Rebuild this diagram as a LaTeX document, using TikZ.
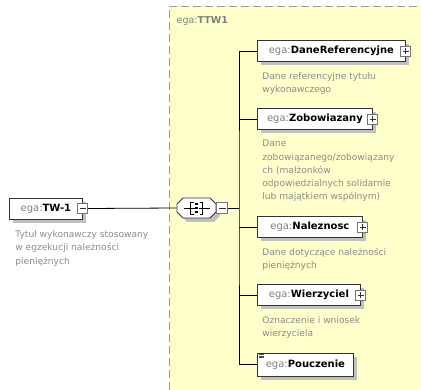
\documentclass[tikz,border=0pt]{standalone}
\usepackage{fontspec}
\setmainfont{DejaVu Sans}
\usetikzlibrary{shadows}
\usetikzlibrary{positioning}

\definecolor{typefill}{RGB}{255,255,204}
\definecolor{nsgrey}{RGB}{128,128,128}
\definecolor{docgrey}{RGB}{140,140,140}
\definecolor{shadegrey}{RGB}{192,192,192}

\newcommand{\ega}[1]{{\color{nsgrey}ega:}\textbf{#1}}

\tikzset{
	elem/.style={draw=black!80, fill=white, anchor=west, minimum height=21pt, inner xsep=8pt,
		font=\fontsize{10}{12}\selectfont,
		drop shadow={shadow xshift=4pt, shadow yshift=-4pt, fill=shadegrey, opacity=1}},
	doc/.style={anchor=north west, align=left, inner sep=0pt, text=docgrey, font=\fontsize{9.1}{13.2}\selectfont},
	pmbox/.style={draw=black!55, fill=white, minimum size=10pt, inner sep=0pt},
	collapsebox/.style={pmbox, path picture={
		\draw[black!80] ([xshift=2pt]path picture bounding box.west) -- ([xshift=-2pt]path picture bounding box.east);}},
	expandbox/.style={pmbox, path picture={
		\draw[black!80] ([xshift=2pt]path picture bounding box.west) -- ([xshift=-2pt]path picture bounding box.east);
		\draw[black!80] ([yshift=-2pt]path picture bounding box.north) -- ([yshift=2pt]path picture bounding box.south);}},
	compositor/.style={minimum width=39pt, minimum height=20pt, inner sep=0pt},
	octagon/.style={fill=white, draw=black!80},
	typeborder/.style={nsgrey!80, line width=0.8pt, dash pattern=on 8pt off 4pt},
}

\begin{document}
\begin{tikzpicture}[x=1pt, y=-1pt, line width=0.8pt]
		\useasboundingbox (0,0) rectangle (421,390);
		% complex type area
		\fill[typefill] (169,6) rectangle (421,390);
		\draw[typeborder] (169,390) -- (169,6) -- (418,6);
		\node (ttw) [anchor=west, text=nsgrey, font=\fontsize{9.5}{11}\selectfont] at (173,21) {ega:\textbf{TTW1}};
		%
		\node (tw) [elem, minimum width=73pt] at (9,208.5) {\ega{TW-1}};
		\node (twpm) [collapsebox] at (tw.east) {};
		\node (twdoc) [doc] at ([shift={(6,11)}]tw.south west) {Tytuł wykonawczy stosowany\\w egzekucji należności\\pieniężnych};
		%
		\node (seq) [compositor] at (196.5,208) {};
		\begin{scope}[shift={(seq.center)}]
			\fill[shadegrey] (-15.5,0) -- (-15.5,8) -- (-9.5,14) -- (17.5,14) -- (23.5,8) -- (23.5,0) -- (17.5,-6) -- (-9.5,-6) -- cycle;
			\filldraw[octagon] (-19.5,-4) -- (-19.5,4) -- (-13.5,10) -- (13.5,10) -- (19.5,4) -- (19.5,-4) -- (13.5,-10) -- (-13.5,-10) -- cycle;
			\draw (-13,0) -- (-2,0) (2,0) -- (13,0);
			\draw (-3,-6) -- (-6,-6) -- (-6,6) -- (-3,6);
			\draw (3,-6) -- (6,-6) -- (6,6) -- (3,6);
			\foreach \dy in {-4,0,4}
				\fill (-1.2,\dy-1.2) rectangle ++(2.4,2.4);
		\end{scope}
		\node (seqpm) [collapsebox, anchor=west, minimum size=11pt] at (seq.east) {};
		\coordinate (trunk) at (239,208);
		\draw (twpm.east) -- (seq.west);
		\draw (seqpm.east) -- (trunk);
		%
		\node (dane) [elem, minimum width=148pt] at (257,51) {\ega{DaneReferencyjne}};
		\node (danepm) [expandbox] at (dane.east) {};
		\node (danedoc) [doc] at ([shift={(5,10)}]dane.south west) {Dane referencyjne tytułu\\wykonawczego};
		%
		\node (zob) [elem, minimum width=115pt] at (257,119) {\ega{Zobowiazany}};
		\node (zobpm) [expandbox] at (zob.east) {};
		\node (zobdoc) [doc] at ([shift={(5,10)}]zob.south west) {Dane\\zobowiązanego/zobowiązany\\ch (małżonków\\odpowiedzialnych solidarnie\\lub majątkiem wspólnym)};
		%
		\node (nal) [elem, minimum width=105pt] at (257,227) {\ega{Naleznosc}};
		\node (nalpm) [expandbox] at (nal.east) {};
		\node (naldoc) [doc] at ([shift={(5,10)}]nal.south west) {Dane dotyczące należności\\pieniężnych};
		%
		\node (wie) [elem, minimum width=103pt] at (257,295) {\ega{Wierzyciel}};
		\node (wiepm) [expandbox] at (wie.east) {};
		\node (wiedoc) [doc] at ([shift={(5,10)}]wie.south west) {Oznaczenie i wniosek\\wierzyciela};
		%
		\node (pou) [elem, minimum width=96pt, minimum height=23pt] at (257,364.5) {\ega{Pouczenie}};
		\foreach \dy in {2,3.6,5.2}
			\draw[black!70, line width=0.6pt] ([shift={(1.5,\dy)}]pou.north west) -- ++(5,0);
		%
		\draw (dane.west) -| (trunk) |- (pou.west);
		\foreach \n in {zob,nal,wie}
			\draw (\n.west) -- (\n.west -| trunk);
	\end{tikzpicture}
\end{document}
